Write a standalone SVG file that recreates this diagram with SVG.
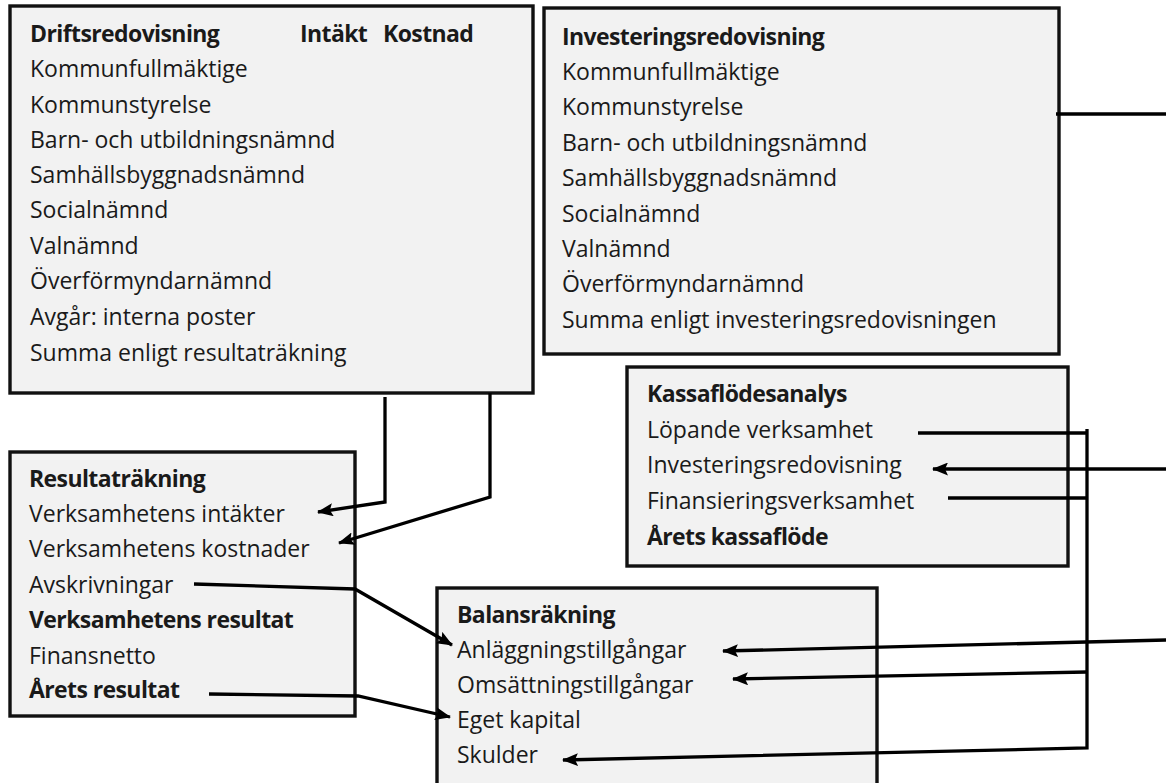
<svg xmlns="http://www.w3.org/2000/svg" width="1166" height="783" viewBox="0 0 1166 783">
<defs>
<marker id="arr" markerUnits="userSpaceOnUse" markerWidth="16" markerHeight="13" refX="15" refY="6.5" orient="auto">
<path d="M0,0 L16,6.5 L0,13 L3,6.5 z" fill="#000"/>
</marker>
<style>
.box{fill:#f2f2f2;stroke:#111;stroke-width:3.4}
text{font-family:"Open Sans","Noto Sans","Liberation Sans",sans-serif;font-size:23px;fill:#1a1a1a}
.b{font-weight:bold;letter-spacing:-0.6px}
.c{fill:none;stroke:#000;stroke-width:3.3;stroke-linejoin:miter}
.a{marker-end:url(#arr)}
</style>
</defs>
<rect width="1166" height="783" fill="#fff"/>
<g id="driftsredovisning">
<rect class="box" x="10" y="6" width="523" height="387"/>
<text class="b" x="30" y="42">Driftsredovisning</text>
<text class="b" x="300" y="42">Intäkt</text>
<text class="b" x="383" y="42">Kostnad</text>
<text x="30" y="77">Kommunfullmäktige</text>
<text x="30" y="113">Kommunstyrelse</text>
<text x="30" y="148">Barn- och utbildningsnämnd</text>
<text x="30" y="183">Samhällsbyggnadsnämnd</text>
<text x="30" y="218">Socialnämnd</text>
<text x="30" y="254">Valnämnd</text>
<text x="30" y="289">Överförmyndarnämnd</text>
<text x="30" y="325">Avgår: interna poster</text>
<text x="30" y="361">Summa enligt resultaträkning</text>
</g>
<g id="investeringsredovisning">
<rect class="box" x="544" y="8" width="515" height="346"/>
<text class="b" x="562" y="45">Investeringsredovisning</text>
<text x="562" y="80">Kommunfullmäktige</text>
<text x="562" y="115">Kommunstyrelse</text>
<text x="562" y="151">Barn- och utbildningsnämnd</text>
<text x="562" y="186">Samhällsbyggnadsnämnd</text>
<text x="562" y="222">Socialnämnd</text>
<text x="562" y="257">Valnämnd</text>
<text x="562" y="292">Överförmyndarnämnd</text>
<text x="562" y="328">Summa enligt investeringsredovisningen</text>
</g>
<g id="kassaflodesanalys">
<rect class="box" x="627" y="367" width="441" height="199"/>
<text class="b" x="647" y="402">Kassaflödesanalys</text>
<text x="647" y="438">Löpande verksamhet</text>
<text x="647" y="473">Investeringsredovisning</text>
<text x="647" y="509">Finansieringsverksamhet</text>
<text class="b" x="647" y="545">Årets kassaflöde</text>
</g>
<g id="resultatrakning">
<rect class="box" x="10" y="452" width="345" height="264"/>
<text class="b" x="29" y="487">Resultaträkning</text>
<text x="29" y="522">Verksamhetens intäkter</text>
<text x="29" y="557">Verksamhetens kostnader</text>
<text x="29" y="593">Avskrivningar</text>
<text class="b" x="29" y="628">Verksamhetens resultat</text>
<text x="29" y="664">Finansnetto</text>
<text class="b" x="29" y="698">Årets resultat</text>
</g>
<g id="balansrakning">
<rect class="box" x="437" y="588" width="440" height="210"/>
<text class="b" x="457" y="623">Balansräkning</text>
<text x="457" y="658">Anläggningstillgångar</text>
<text x="457" y="693">Omsättningstillgångar</text>
<text x="457" y="728">Eget kapital</text>
<text x="457" y="763">Skulder</text>
</g>
<g id="connectors">
<polyline class="c a" points="385,397 385,502 318,512"/>
<polyline class="c a" points="490,393 490,497 339,543"/>
<polyline class="c a" points="194,584 355,589 452,645"/>
<polyline class="c a" points="209,694 358,696 450,717"/>
<polyline class="c" points="1056,114 1166,114"/>
<polyline class="c a" points="1166,469 933,469"/>
<polyline class="c" points="918,433 1087,433"/>
<polyline class="c" points="948,498 1087,498"/>
<polyline class="c a" points="1087,429 1087,748 563,760"/>
<polyline class="c a" points="1087,672 733,679"/>
<polyline class="c a" points="1166,640 723,651"/>
</g>
</svg>
